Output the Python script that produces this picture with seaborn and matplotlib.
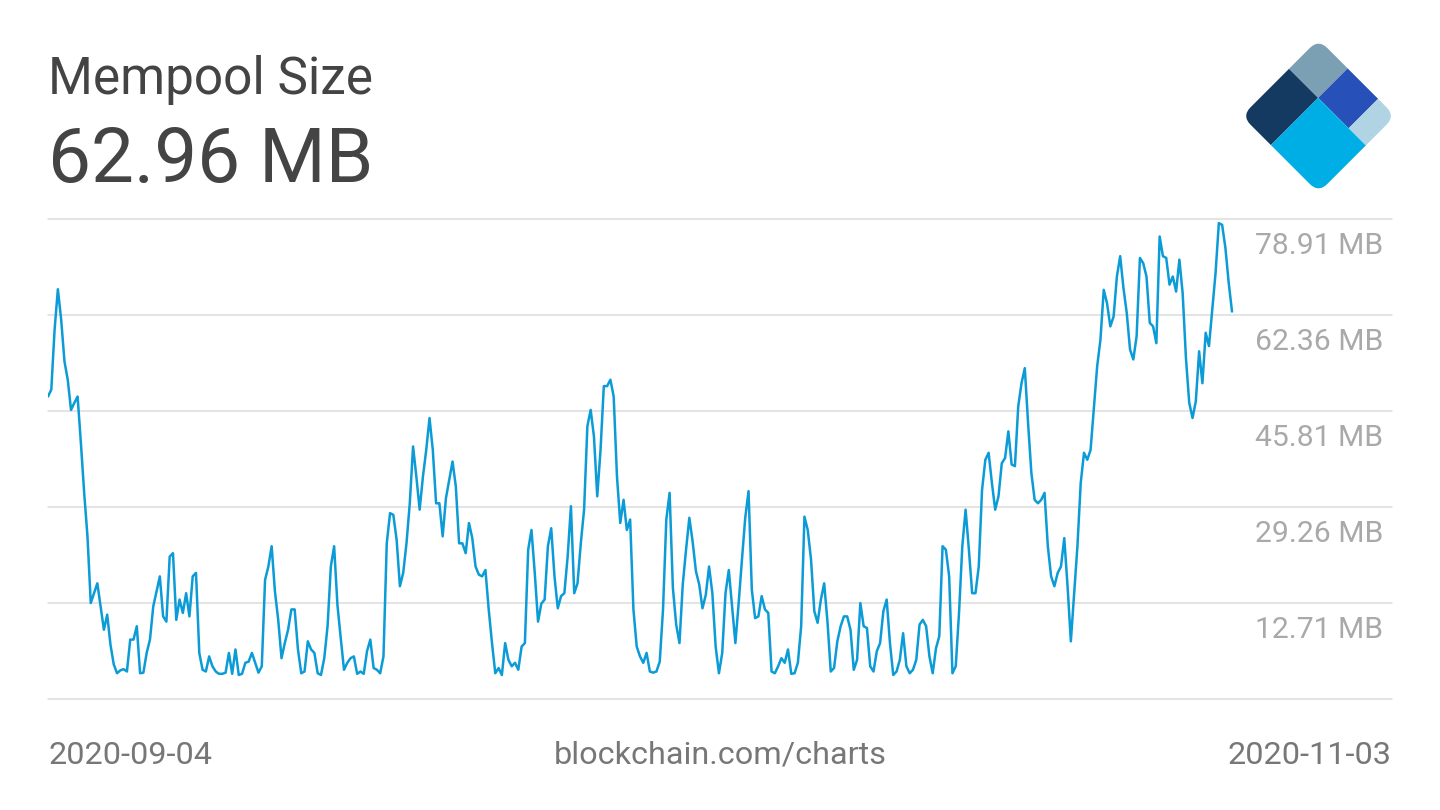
import pandas as pd
import seaborn as sns
import matplotlib.pyplot as plt
from matplotlib.patches import Rectangle, FancyBboxPatch
from matplotlib.transforms import Affine2D

# mempool size (MB), one reading every 4 hours
start_date = "2020-09-04"
end_date = "2020-11-03"
mempool_mb = [
    48.3, 49.5, 59.8, 66.8, 61.6, 54.4, 51.2, 46.0, 47.2, 48.3,
    40.3, 31.7, 24.2, 12.7, 14.4, 16.1, 12.1, 8.1, 10.7, 5.5,
    2.1, 0.6, 1.1, 1.3, 0.9, 6.4, 6.4, 8.7, 0.6, 0.7,
    4.1, 6.4, 12.1, 14.7, 17.3, 10.4, 9.5, 20.7, 21.3, 9.8,
    13.3, 11.0, 14.4, 10.4, 17.3, 17.9, 4.1, 1.2, 0.9, 3.5,
    1.8, 0.9, 0.5, 0.5, 0.7, 4.1, 0.5, 4.7, 0.3, 0.5,
    2.4, 2.6,
    4.1, 2.4, 0.7, 1.8, 16.7, 19.0, 22.5, 14.7, 9.8, 3.2,
    5.8, 8.1, 11.6, 11.6, 4.7, 0.6, 0.9, 6.1, 4.7, 4.1,
    0.6, 0.3, 3.2, 8.7, 19.0, 22.5, 12.4, 6.7, 1.2, 2.4,
    3.2, 3.5, 0.5, 0.9, 0.5, 4.4, 6.4, 1.5, 1.2, 0.6,
    3.5, 23.0, 28.2, 27.9, 23.6, 15.6, 17.9, 23.0, 29.9, 39.7,
    34.5, 28.8, 34.5, 39.1, 44.6, 39.1, 29.9, 29.9, 24.2, 30.8,
    34.0,
    37.1, 32.8, 23.0, 23.0, 21.3, 26.5, 23.9, 19.0, 17.6, 17.3,
    18.4, 11.6, 5.8, 0.6, 1.5, 0.3, 5.8, 2.9, 1.8, 2.4,
    1.2, 5.2, 5.8, 21.9, 25.3, 17.9, 9.5, 12.6, 13.3, 22.5,
    25.6, 17.3, 11.8, 13.9, 14.4, 20.7, 29.4, 14.4, 16.1, 23.0,
    28.8, 43.2, 46.0, 41.4, 31.1, 39.1, 50.1, 50.1, 51.2, 48.3,
    34.5, 26.5, 30.5, 25.3, 27.1, 11.6, 5.2, 3.5, 2.4, 4.1,
    0.9, 0.7, 0.9, 2.6, 11.6, 27.1, 31.7, 15.3, 9.0, 5.8,
    15.9, 21.9, 27.4, 23.3, 18.2, 15.9, 11.8, 14.1, 19.0, 14.4,
    5.2, 0.6, 4.1, 14.4, 18.4, 12.1, 5.8, 12.7, 20.2, 27.4,
    32.0, 15.0, 10.1, 10.4, 13.9, 11.6, 11.0, 0.9, 0.6, 1.8,
    3.2, 2.4, 4.7, 0.5, 0.6, 2.4, 8.7, 27.6, 25.3, 20.2,
    11.3, 9.3, 13.3, 16.1, 9.5, 0.9, 1.5, 6.1, 8.7, 10.4,
    10.4,
    8.1, 1.2, 2.9, 12.7, 8.7, 8.4, 1.8, 0.9, 4.4, 5.8,
    11.3, 13.3, 5.8, 0.3, 0.9, 2.9, 7.5, 1.8, 0.6, 1.2,
    2.9, 9.0, 9.8, 8.7, 3.5, 0.6, 4.9, 7.0, 22.5, 21.9,
    17.3, 0.6, 1.8, 11.0, 22.5, 28.8, 21.9, 14.4, 14.4, 19.0,
    32.2, 37.4, 38.6, 33.4, 28.8, 31.1, 36.8, 37.7, 42.3, 36.6,
    36.3, 46.6, 50.6, 53.2, 43.7, 35.1, 30.5, 29.9, 30.5, 31.7,
    22.5,
    17.3, 15.6, 17.9, 19.0, 23.9, 15.6, 6.1, 14.4, 22.5, 33.4,
    38.6, 37.4, 39.1, 46.3, 53.5, 58.1, 66.7, 64.4, 60.4, 62.1,
    69.0, 72.5, 67.0, 62.7, 56.4, 54.7, 58.7, 72.2, 71.3, 69.0,
    61.0, 60.4, 57.5, 75.9, 72.5, 72.2, 67.6, 69.0, 66.4, 71.9,
    66.1, 54.9, 47.2, 44.6, 47.5, 56.1, 50.6, 59.3, 57.0, 63.3,
    69.6, 78.2, 77.9, 73.9, 67.9, 62.96,
]
tick_values = [12.71, 29.26, 45.81, 62.36, 78.91]
axis_floor = -3.84

dates = pd.date_range(start_date, end_date, freq="4h")
df = pd.DataFrame({"date": dates, "size": mempool_mb})

sns.set_style("white")
plt.rcParams["font.family"] = ["Roboto", "DejaVu Sans"]

W, H = 1440, 810
fig = plt.figure(figsize=(W / 100, H / 100), dpi=100)
ax = fig.add_axes([48 / W, 111 / H, 1344 / W, 480 / H])

sns.lineplot(data=df, x="date", y="size", ax=ax, color="#0b9bd6", linewidth=1.8)

# the line stops short of the right edge, labels sit in the gap
span = (dates[-1] - dates[0]) * (1344 / 1184)
ax.set_xlim(dates[0], dates[0] + span)
ax.set_ylim(axis_floor, tick_values[-1])
ax.set_yticks([axis_floor] + tick_values)
ax.set_xticks([])
ax.grid(True, axis="y", color="#dcdcdc", linewidth=1.1)
ax.grid(False, axis="x")
for gl in ax.get_ygridlines():
    gl.set_clip_on(False)
ax.tick_params(left=False, labelleft=False, bottom=False, labelbottom=False)
sns.despine(ax=ax, left=True, bottom=True)
ax.set_xlabel("")
ax.set_ylabel("")

for v in tick_values:
    ax.annotate(f"{v:.2f} MB", xy=((1383 - 48) / 1344, v),
                xycoords=("axes fraction", "data"),
                xytext=(0, -25), textcoords="offset points",
                ha="right", va="baseline", fontsize=21.7, color="#a9a9a9")

# header
fig.text(48 / W, (H - 94) / H, "Mempool Size", fontsize=37,
         color="#444444", va="baseline")
fig.text(48 / W, (H - 182) / H, f"{mempool_mb[-1]:.2f} MB", fontsize=55,
         color="#444444", va="baseline")

# footer
foot_y = (H - 764) / H
fig.text(48 / W, foot_y, dates[0].strftime("%Y-%m-%d"), fontsize=23.3,
         color="#777777", va="baseline")
fig.text(720 / W, foot_y, "blockchain.com/charts", fontsize=23.3,
         color="#777777", va="baseline", ha="center")
fig.text(1391 / W, foot_y, dates[-1].strftime("%Y-%m-%d"), fontsize=23.3,
         color="#777777", va="baseline", ha="right")

# logo: rounded square turned 45 degrees, split in five blocks
lax = fig.add_axes([0, 0, 1, 1])
lax.set_xlim(0, W)
lax.set_ylim(0, H)
lax.axis("off")
side = 108.8
rot = Affine2D().rotate_deg(45).translate(1241.6, H - 116) + lax.transData
clip = FancyBboxPatch((0, -side), side, side,
                      boxstyle="round,pad=0,rounding_size=13",
                      transform=rot, facecolor="none", edgecolor="none")
lax.add_patch(clip)
a_cut, b_cut1, b_cut2 = 67, 41.3, 84.4
pieces = [
    ((0, -b_cut1), a_cut, b_cut1, "#143a61"),
    ((a_cut, -b_cut1), side - a_cut, b_cut1, "#7b9fb3"),
    ((a_cut, -b_cut2), side - a_cut, b_cut2 - b_cut1, "#2751b9"),
    ((a_cut, -side), side - a_cut, side - b_cut2, "#b1d4e5"),
    ((0, -side), a_cut, side - b_cut1, "#00aee6"),
]
for (px, py), pw, ph, col in pieces:
    r = Rectangle((px, py), pw, ph, transform=rot, facecolor=col,
                  edgecolor="none")
    lax.add_patch(r)
    r.set_clip_path(clip)

fig.savefig("out.png", dpi=100)
